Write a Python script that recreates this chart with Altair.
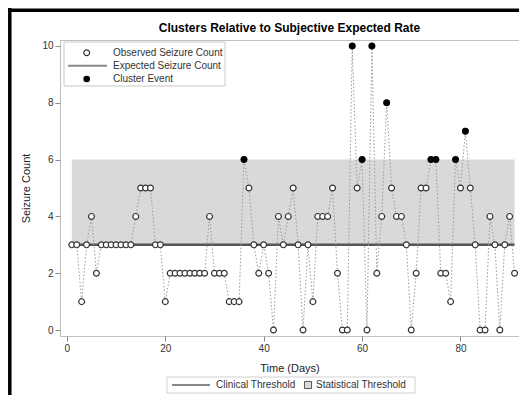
import altair as alt
import pandas as pd

# ---- data ----
days = list(range(1, 92))
counts = [3, 3, 1, 3, 4, 2, 3, 3, 3, 3, 3, 3, 3, 4, 5, 5, 5, 3, 3, 1,
          2, 2, 2, 2, 2, 2, 2, 2, 4, 2, 2, 2, 1, 1, 1, 6, 5, 3, 2, 3,
          2, 0, 4, 3, 4, 5, 3, 0, 3, 1, 4, 4, 4, 5, 2, 0, 0, 10, 5, 6,
          0, 10, 2, 4, 8, 5, 4, 4, 3, 0, 2, 5, 5, 6, 6, 2, 2, 1, 6, 5,
          7, 5, 3, 0, 0, 4, 3, 0, 3, 4, 2]
cluster_days = [36, 58, 60, 62, 65, 74, 75, 79, 81]
clinical_threshold = 3
statistical_threshold = 6
x_ticks = [0, 20, 40, 60, 80]
y_ticks = [0, 2, 4, 6, 8, 10]
title_text = "Clusters Relative to Subjective Expected Rate"
inner_labels = ["Observed Seizure Count", "Expected Seizure Count", "Cluster Event"]
bottom_labels = ["Clinical Threshold", "Statistical Threshold"]

FONT = "Liberation Sans"

df = pd.DataFrame({"day": days, "count": counts})
clusters = df[df["day"].isin(cluster_days)]
band = pd.DataFrame({"start": [days[0]], "end": [days[-1]],
                     "low": [clinical_threshold], "high": [statistical_threshold]})

x_scale = alt.Scale(domain=[-1.4, 91.9], nice=False, zero=False)
y_scale = alt.Scale(domain=[-0.21, 10.21], nice=False, zero=False)

band_layer = alt.Chart(band).mark_rect(color="#d9d9d9").encode(
    x=alt.X("start:Q", scale=x_scale,
            axis=alt.Axis(values=x_ticks, title="Time (Days)", titlePadding=9)),
    x2="end:Q",
    y=alt.Y("low:Q", scale=y_scale,
            axis=alt.Axis(values=y_ticks, title="Seizure Count", titlePadding=10)),
    y2="high:Q",
)

clin_layer = alt.Chart(band).mark_rule(color="#555555", strokeWidth=2.5).encode(
    x="start:Q", x2="end:Q", y="low:Q"
)

path_layer = alt.Chart(df).mark_line(color="#9a9a9a", strokeWidth=1, strokeDash=[1.5, 2]).encode(
    x="day:Q", y="count:Q"
)

open_layer = alt.Chart(df).mark_point(
    shape="circle", filled=True, color="white", stroke="#333333",
    strokeWidth=1.2, size=34, opacity=1
).encode(x="day:Q", y="count:Q")

cluster_layer = alt.Chart(clusters).mark_point(
    shape="circle", filled=True, color="black", size=44, opacity=1
).encode(x="day:Q", y="count:Q")


def one(label):
    return alt.Chart(pd.DataFrame({"label": [label]}))


# ---- title as a text mark (so the frame edges do not push it away) ----
title_layer = one(title_text).mark_text(
    align="center", baseline="middle", font=FONT, fontSize=12, fontWeight="bold", color="black"
).encode(x=alt.value(229.5), y=alt.value(-12), text="label:N")

# ---- inner legend (top-left) ----
inner_box = one("box").mark_rect(fill="white", stroke="#c8c8c8", strokeWidth=1).encode(
    x=alt.value(4), x2=alt.value(165), y=alt.value(2), y2=alt.value(46)
)
row_y = [12.7, 25.7, 39]
inner_open = one(inner_labels[0]).mark_point(
    shape="circle", filled=True, color="white", stroke="#333333",
    strokeWidth=1.2, size=34, opacity=1
).encode(x=alt.value(26.7), y=alt.value(row_y[0]))
inner_line = one(inner_labels[1]).mark_rule(color="#888888", strokeWidth=2).encode(
    x=alt.value(8), x2=alt.value(47), y=alt.value(row_y[1])
)
inner_fill = one(inner_labels[2]).mark_point(
    shape="circle", filled=True, color="black", size=44, opacity=1
).encode(x=alt.value(26.7), y=alt.value(row_y[2]))
inner_texts = [
    one(lbl).mark_text(align="left", baseline="middle", font=FONT, fontSize=10, color="#333333").encode(
        x=alt.value(53), y=alt.value(yy), text="label:N")
    for lbl, yy in zip(inner_labels, row_y)
]

# ---- bottom legend ----
bot_y = 345
bot_box = one("box").mark_rect(fill="white", stroke="#d0d0d0", strokeWidth=1).encode(
    x=alt.value(107), x2=alt.value(355), y=alt.value(337), y2=alt.value(353)
)
bot_line = one(bottom_labels[0]).mark_rule(color="#888888", strokeWidth=2).encode(
    x=alt.value(112), x2=alt.value(150), y=alt.value(bot_y)
)
bot_square = one(bottom_labels[1]).mark_point(
    shape="square", filled=True, color="#d9d9d9", stroke="#555555", strokeWidth=1, size=50, opacity=1
).encode(x=alt.value(248), y=alt.value(bot_y))
bot_texts = [
    one(bottom_labels[0]).mark_text(align="left", baseline="middle", font=FONT, fontSize=10, color="#333333").encode(
        x=alt.value(156), y=alt.value(bot_y), text="label:N"),
    one(bottom_labels[1]).mark_text(align="left", baseline="middle", font=FONT, fontSize=10, color="#333333").encode(
        x=alt.value(256), y=alt.value(bot_y), text="label:N"),
]

# ---- outer frame of the picture (thick black left and top edges) ----
frame_left = one("f").mark_rule(color="black", strokeWidth=3.5).encode(
    x=alt.value(-50.2), y=alt.value(-32), y2=alt.value(355)
)
frame_top = one("f").mark_rule(color="black", strokeWidth=3.5).encode(
    x=alt.value(-52), x2=alt.value(459), y=alt.value(-29.8)
)

chart = alt.layer(
    band_layer, clin_layer, path_layer, open_layer, cluster_layer,
    title_layer,
    inner_box, inner_open, inner_line, inner_fill, *inner_texts,
    bot_box, bot_line, bot_square, *bot_texts,
    frame_left, frame_top,
).properties(
    width=459,
    height=296,
    autosize=alt.AutoSizeParams(type="none"),
    padding={"left": 52, "top": 32, "right": 0, "bottom": 59},
    background="white",
).configure_view(
    stroke="#c0c0c0", strokeWidth=1
).configure_axis(
    domain=False, grid=False, tickColor="#888888", tickSize=5, tickWidth=1,
    labelFont=FONT, labelFontSize=10, labelColor="#333333", labelPadding=2,
    titleFont=FONT, titleFontSize=11, titleFontWeight="normal", titleColor="#222222",
)

chart.save("out.html", embed_options={"renderer": "svg", "actions": False})
